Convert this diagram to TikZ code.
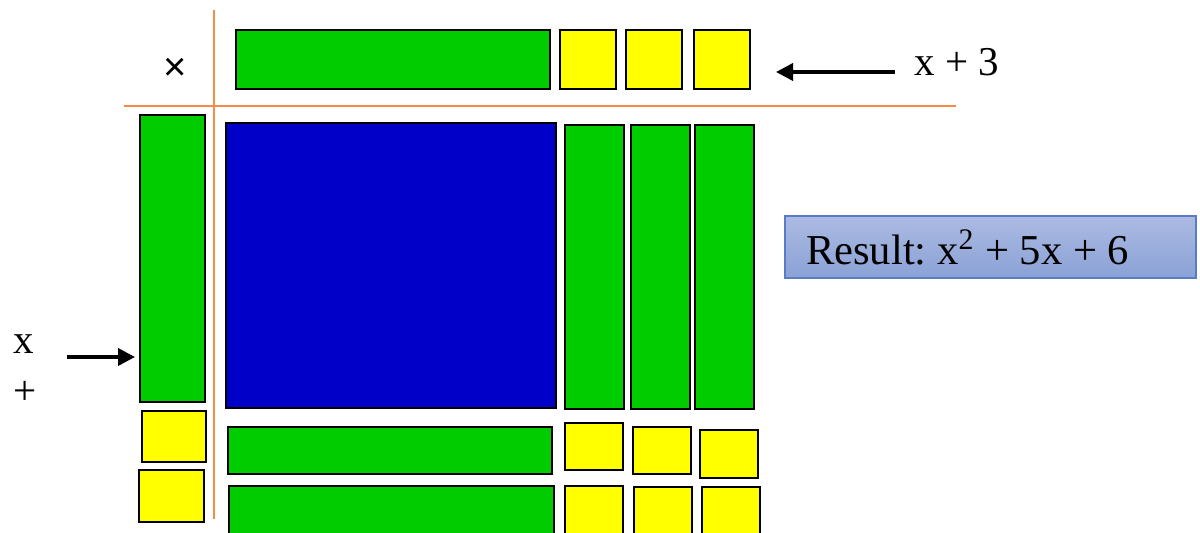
\documentclass[tikz,border=0pt]{standalone}
\usepackage{fontspec}
\setmainfont{Liberation Serif}
\newfontfamily\symfont{Liberation Sans}
\usetikzlibrary{arrows.meta,fit}

\definecolor{tilegreen}{RGB}{0,204,0}
\definecolor{tileyellow}{RGB}{255,255,0}
\definecolor{tileblue}{RGB}{0,0,200}
\definecolor{axisorange}{RGB}{245,140,70}
\definecolor{boxtop}{RGB}{172,186,226}
\definecolor{boxbottom}{RGB}{138,162,214}
\definecolor{boxedge}{RGB}{88,124,198}

% algebra tile: fill colour, name, two opposite corners
\newcommand\tile[6]{\node[tile,fill=#1,fit={(#3,#4) (#5,#6)}] (#2) {};}

\begin{document}
\begin{tikzpicture}[x=0.5pt,y=-0.5pt,
  tile/.style={draw=black,line width=1.1pt,inner sep=0pt,outer sep=0pt},
  axis/.style={draw=axisorange,line width=0.75pt},
  pointer/.style={draw=black,line width=1.8pt,-{Triangle[length=8.5pt,width=8.5pt]}},
  word/.style={inner sep=0pt,font=\fontsize{20.5}{24}\selectfont}]
\useasboundingbox (0,0) rectangle (1200,533);
\clip (0,0) rectangle (1200,533);

% multiplication grid axes
\draw[axis] (214,10) -- (214,519);
\draw[axis] (124,106) -- (956,106);

\node[inner sep=0pt,font=\symfont\fontsize{20}{24}\selectfont] (times) at (175,69) {×};

% top factor: x + 3
\tile{tilegreen}{topX}{236}{30}{550}{89}
\tile{tileyellow}{topOne}{560}{30}{616}{89}
\tile{tileyellow}{topTwo}{626}{30}{682}{89}
\tile{tileyellow}{topThree}{694}{30}{750}{89}

% left factor: x + 2
\tile{tilegreen}{leftX}{140}{115}{205}{402}
\tile{tileyellow}{leftOne}{142}{411}{206}{462}
\tile{tileyellow}{leftTwo}{139}{470}{204}{522}

% product area
\tile{tileblue}{square}{226}{123}{556}{408}
\tile{tilegreen}{colA}{565}{125}{624}{409}
\tile{tilegreen}{colB}{631}{125}{690}{409}
\tile{tilegreen}{colC}{695}{125}{754}{409}

\tile{tilegreen}{rowA}{228}{427}{552}{474}
\tile{tileyellow}{unitAA}{565}{423}{623}{470}
\tile{tileyellow}{unitAB}{633}{427}{691}{474}
\tile{tileyellow}{unitAC}{700}{430}{758}{478}

\tile{tilegreen}{rowB}{229}{486}{554}{545}
\tile{tileyellow}{unitBA}{565}{486}{623}{545}
\tile{tileyellow}{unitBB}{634}{487}{692}{545}
\tile{tileyellow}{unitBC}{702}{487}{760}{545}

% factor labels and pointers
\node[word,anchor=base west] (topLabel) at (914,76) {x + 3};
\coordinate (topTail) at (895,72);
\coordinate (topTip) at (776,72);
\draw[pointer] (topTail) -- (topTip);

\node[word,anchor=base west] (leftLabelX) at (13,354) {x};
\node[word,anchor=base west] (leftLabelPlus) at (13,405) {+};
\coordinate (leftTail) at (67,357);
\coordinate (leftTip) at (135,357);
\draw[pointer] (leftTail) -- (leftTip);

% result
\node[draw=boxedge,line width=0.6pt,top color=boxtop,bottom color=boxbottom,
      minimum width=205.5pt,minimum height=31pt,text width=184.5pt,
      inner xsep=10.5pt,inner ysep=0pt,align=flush left,
      font=\fontsize{21.3}{25}\selectfont\frenchspacing] (result) at (990.5,247)
      {Result: x\textsuperscript{2} + 5x + 6};
\end{tikzpicture}
\end{document}
